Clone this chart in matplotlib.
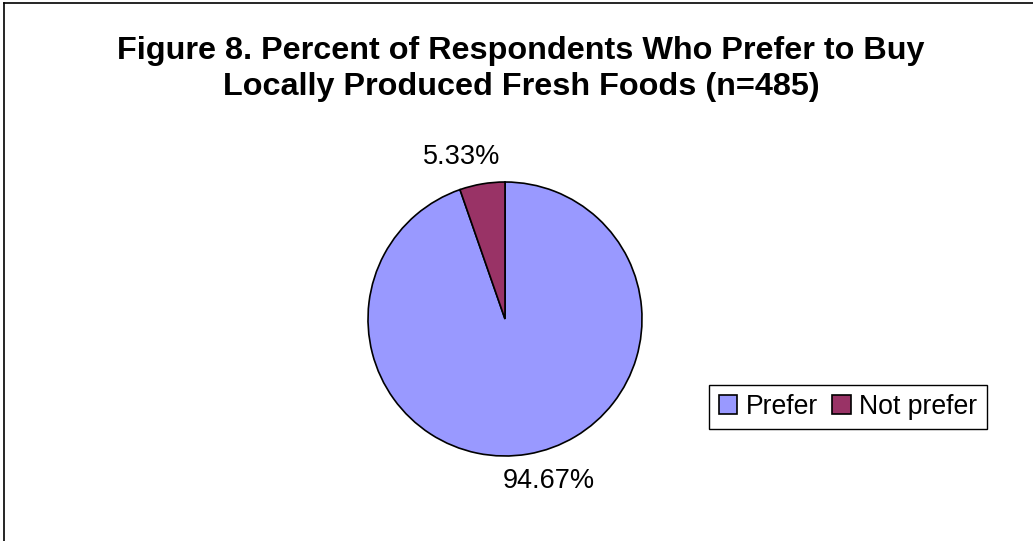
import matplotlib
matplotlib.use("Agg")
import matplotlib.pyplot as plt
from matplotlib.lines import Line2D

plt.rcParams['font.family'] = ['Liberation Sans', 'DejaVu Sans']

# data
categories = ["Prefer", "Not prefer"]
percents = [94.67, 5.33]
colors = ["#9999FF", "#993366"]
title = "Figure 8. Percent of Respondents Who Prefer to Buy\nLocally Produced Fresh Foods (n=485)"

W, H = 1033, 541
fig = plt.figure(figsize=(W / 100, H / 100), dpi=100)

# outer chart border (right/bottom edges lie outside the picture)
fig.add_artist(Line2D([4 / W, 4 / W], [0, 1 - 3 / H], color="black", lw=1.2))
fig.add_artist(Line2D([4 / W, 1], [1 - 3 / H, 1 - 3 / H], color="black", lw=1.2))

fig.text(521 / W, 1 - 69 / H, title, ha="center", va="center",
         fontsize=23.3, fontweight="bold", linespacing=1.22)

# pie: centre (505, 319) px, radius 137 px
cx, cy, r = 505, 319, 137
ax = fig.add_axes([(cx - r) / W, 1 - (cy + r) / H, 2 * r / W, 2 * r / H])
wedges, texts, autotexts = ax.pie(
    percents, colors=colors, startangle=90, counterclock=False,
    autopct=lambda p: f"{p:.2f}%", pctdistance=1.2,
    wedgeprops=dict(edgecolor="black", linewidth=1.2),
    textprops=dict(fontsize=19.5))
ax.set_xlim(-1, 1)
ax.set_ylim(-1, 1)
ax.set_aspect("equal")
ax.axis("off")
# Excel pushes the labels a little outward horizontally
for t in autotexts:
    x, y = t.get_position()
    t.set_position((x + 0.12 * (1 if x > 0 else -1), y))

fig.legend(wedges, categories, loc="center",
           bbox_to_anchor=(848 / W, 1 - 407 / H), ncol=2, fontsize=19.2,
           frameon=True, fancybox=False, edgecolor="black", framealpha=1,
           handlelength=0.7, handleheight=0.7, handletextpad=0.3,
           columnspacing=0.55, borderpad=0.35, borderaxespad=0)

fig.savefig("out.png", dpi=100, facecolor="white")
